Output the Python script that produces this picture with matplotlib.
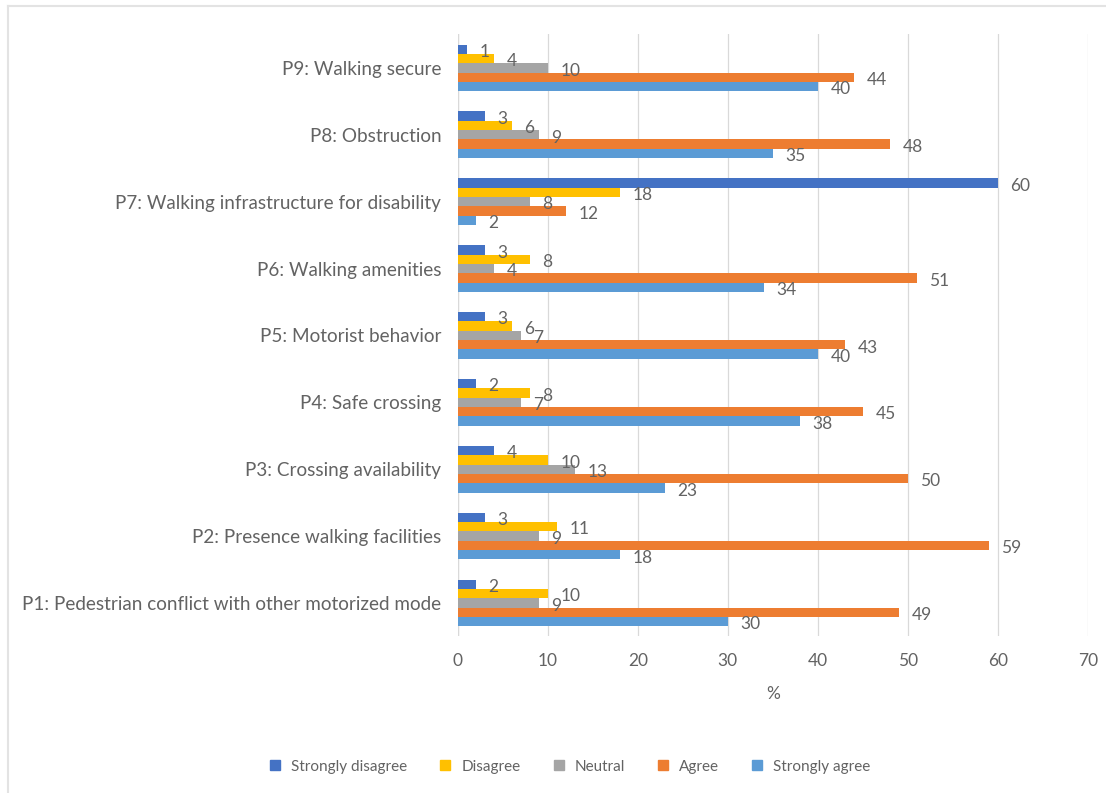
import numpy as np
import matplotlib.pyplot as plt
from matplotlib.lines import Line2D

plt.rcParams['font.family'] = ['Lato', 'DejaVu Sans']

# Survey items, listed bottom to top as they appear on the y axis
items = ['P1: Pedestrian conflict with other motorized mode',
         'P2: Presence walking facilities',
         'P3: Crossing availability',
         'P4: Safe crossing',
         'P5: Motorist behavior',
         'P6: Walking amenities',
         'P7: Walking infrastructure for disability',
         'P8: Obstruction',
         'P9: Walking secure']

strongly_disagree = [2, 3, 4, 2, 3, 3, 60, 3, 1]
disagree = [10, 11, 10, 8, 6, 8, 18, 6, 4]
neutral = [9, 9, 13, 7, 7, 4, 8, 9, 10]
agree = [49, 59, 50, 45, 43, 51, 12, 48, 44]
strongly_agree = [30, 18, 23, 38, 40, 34, 2, 35, 40]

series_names = ['Strongly disagree', 'Disagree', 'Neutral', 'Agree', 'Strongly agree']
series_vals = [strongly_disagree, disagree, neutral, agree, strongly_agree]
colors = ['#4472C4', '#FFC000', '#A5A5A5', '#ED7D31', '#5B9BD5']

text_col = '#636363'
grid_col = '#D9D9D9'
fs = 12.5

fig = plt.figure(figsize=(11.06, 7.93), dpi=100)
ax = fig.add_axes([0.414, 0.1975, 0.5696, 0.759])

ypos = np.arange(len(items))
h = 0.14
for j, (name, vals, col) in enumerate(zip(series_names, series_vals, colors)):
    offs = (2 - j) * h
    bars = ax.barh(ypos + offs, vals, height=h, color=col, label=name, zorder=3)
    for b, v in zip(bars, vals):
        ax.annotate(str(v), (b.get_width(), b.get_y() + b.get_height() / 2),
                    xytext=(9, -2), textcoords='offset points',
                    ha='left', va='center', fontsize=fs, color=text_col, zorder=4)

ax.set_xlim(0, 70)
ax.set_ylim(-0.5, len(items) - 0.5)
ax.set_xticks(np.arange(0, 71, 10))
ax.set_yticks(ypos)
ax.set_yticklabels(items)
ax.tick_params(axis='y', length=0, pad=12, labelsize=13.6, labelcolor=text_col)
ax.tick_params(axis='x', length=0, pad=12, labelsize=fs, labelcolor=text_col)
ax.grid(axis='x', color=grid_col, linewidth=0.9, zorder=0)
for s in ax.spines.values():
    s.set_visible(False)
ax.axvline(0, color=grid_col, linewidth=0.9, zorder=1)
ax.set_xlabel('%', fontsize=fs, color=text_col, labelpad=12)

handles = [Line2D([], [], marker='s', linestyle='none', markersize=7,
                  markerfacecolor=c, markeredgecolor=c) for c in colors]
fig.legend(handles, series_names, loc='center', bbox_to_anchor=(0.511, 0.033),
           ncol=5, frameon=False, fontsize=11, labelcolor=text_col,
           handletextpad=0.05, columnspacing=1.5)

# faint chart frame along the left and top edges
fig.add_artist(Line2D([0.007, 0.007], [0.0, 0.992], transform=fig.transFigure,
                      color='#E3E3E3', linewidth=1.5))
fig.add_artist(Line2D([0.007, 1.0], [0.992, 0.992], transform=fig.transFigure,
                      color='#E3E3E3', linewidth=1.5))

fig.savefig('out.png', dpi=100)
